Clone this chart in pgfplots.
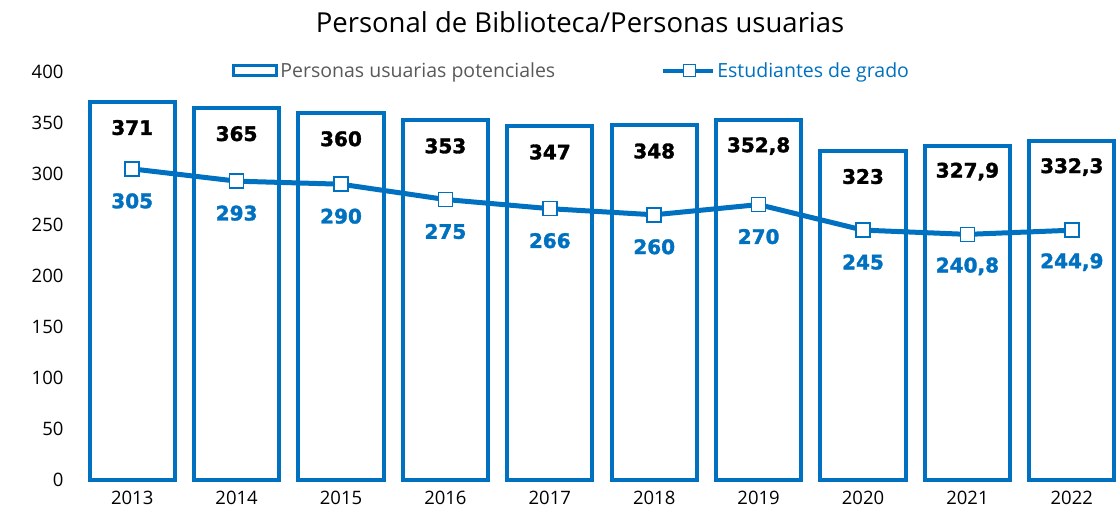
\documentclass[border=0pt]{standalone}
\usepackage{fontspec}
\setmainfont{Open Sans}
\newfontfamily\labfont[FakeBold=1.6]{DejaVu Sans Bold}
\usepackage{pgfplots}
\usepackage{pgfplotstable}
\pgfplotsset{compat=1.18}
\definecolor{cblue}{HTML}{0070C0}
\definecolor{cgray}{HTML}{595959}
\pgfplotstableread{
x bar line barlab linelab
0 371 305 371 305
1 365 293 365 293
2 360 290 360 290
3 353 275 353 275
4 347 266 347 266
5 348 260 348 260
6 352.8 270 352,8 270
7 323 245 323 245
8 327.9 240.8 327,9 240,8
9 332.3 244.9 332,3 244,9
}\datatable
\begin{document}
\begin{tikzpicture}
\path[use as bounding box] (-80pt,-39pt) rectangle (1036pt,480pt);
\begin{axis}[
  at={(0pt,0pt)}, anchor=south west,
  scale only axis, width=1044pt, height=408pt,
  xmin=-0.5, xmax=9.5, ymin=0, ymax=400,
  clip=false,
  axis line style={draw=none},
  tick style={draw=none},
  ytick={0,50,...,400},
  xtick={0,...,9},
  xticklabels={2013,2014,2015,2016,2017,2018,2019,2020,2021,2022},
  /pgf/number format/assume math mode=true,
  tick label style={font=\fontsize{18.5}{20}\selectfont, text=black},
  yticklabel style={anchor=east, xshift=-13pt},
  xticklabel style={anchor=north, yshift=-8pt},
  legend columns=2,
  legend style={draw=none, fill=none, at={(0.471,1.003)}, anchor=center,
    font=\fontsize{19.5}{22}\selectfont, /tikz/every even column/.append style={column sep=104pt}},
]
\addplot[ybar, bar width=0.815, draw=cblue, line width=4pt, fill=white,
  nodes near coords, point meta=explicit symbolic,
  every node near coord/.append style={anchor=center, yshift=-26pt, font=\labfont\fontsize{20}{22}\selectfont, text=black},
  legend image code/.code={\draw[cblue, line width=3pt, fill=white] (0pt,-5pt) rectangle (43pt,5pt);}]
  table[x=x, y=bar, meta=barlab]{\datatable};
\addlegendentry{\textcolor{cgray}{Personas usuarias potenciales}}
\addplot[cblue, line width=5pt, mark=square*, mark size=7pt,
  mark options={fill=white, draw=cblue, line width=1.5pt},
  nodes near coords, point meta=explicit symbolic,
  every node near coord/.append style={anchor=center, yshift=-32pt, font=\labfont\fontsize{20}{22}\selectfont, text=cblue},
  legend image code/.code={\draw[cblue, line width=4pt] (0pt,0pt) -- (50pt,0pt); \draw[cblue, fill=white, line width=1.2pt] (20pt,-6pt) rectangle (32pt,6pt);}]
  table[x=x, y=line, meta=linelab]{\datatable};
\addlegendentry{\textcolor{cblue}{Estudiantes de grado}}
\node[font=\fontsize{27.5}{30}\selectfont, text=black] at (rel axis cs:0.479,1.1225) {Personal de Biblioteca/Personas usuarias};
\end{axis}
\end{tikzpicture}
\end{document}
